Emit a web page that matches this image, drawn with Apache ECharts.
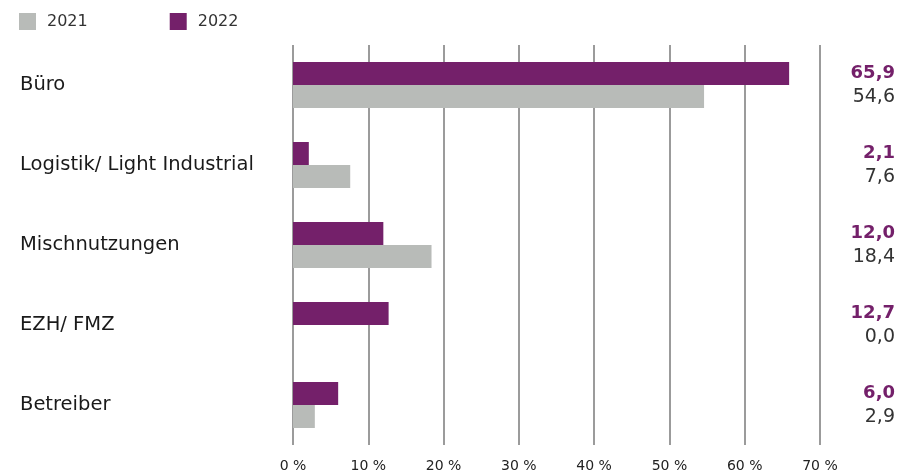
<!DOCTYPE html>
<html><head><meta charset="utf-8">
<script src="https://cdn.jsdelivr.net/npm/echarts@6/dist/echarts.min.js"></script>
<style>html,body{margin:0;padding:0;background:#fff}#c{width:900px;height:475px}</style>
</head><body><div id="c"></div>
<script>
const categories = ['Büro', 'Logistik/ Light Industrial', 'Mischnutzungen', 'EZH/ FMZ', 'Betreiber'];
const values2022 = [65.9, 2.1, 12.0, 12.7, 6.0];
const values2021 = [54.6, 7.6, 18.4, 0.0, 2.9];
const xTicks = [0, 10, 20, 30, 40, 50, 60, 70];

const PURPLE = '#74206a';
const GREY = '#b8bbb8';
const fmt = v => v.toFixed(1).replace('.', ',');

const chart = echarts.init(document.getElementById('c'), null, {renderer: 'canvas'});
chart.setOption({
  animation: false,
  textStyle: {fontFamily: 'DejaVu Sans, sans-serif'},
  legend: {
    left: 14, top: 8, itemWidth: 17, itemHeight: 17, itemGap: 82,
    icon: 'rect',
    textStyle: {fontSize: 16, color: '#333', padding: [0, 0, 0, 6], fontFamily: 'DejaVu Sans'},
    data: ['2021', '2022']
  },
  grid: {left: 293, right: 80, top: 45, height: 400},
  xAxis: {
    type: 'value', min: xTicks[0], max: xTicks[xTicks.length - 1], interval: 10,
    axisLine: {show: false}, axisTick: {show: false},
    splitLine: {show: true, lineStyle: {color: '#7a7a7a', width: 1.5}},
    axisLabel: {formatter: '{value} %', fontSize: 14, color: '#222', margin: 14, fontFamily: 'DejaVu Sans'}
  },
  yAxis: [{
    type: 'category', data: categories, inverse: true,
    axisLine: {show: false}, axisTick: {show: false},
    axisLabel: {align: 'left', margin: 273, fontSize: 19.5, color: '#1a1a1a', fontFamily: 'DejaVu Sans'}
  }, {
    type: 'category', data: categories, inverse: true, position: 'right',
    axisLine: {show: false}, axisTick: {show: false},
    axisLabel: {
      align: 'right', margin: 75,
      formatter: (v, i) => '{a|' + fmt(values2022[i]) + '}\n{b|' + fmt(values2021[i]) + '}',
      rich: {
        a: {fontSize: 18, fontWeight: 'bold', color: PURPLE, lineHeight: 24, align: 'right', fontFamily: 'DejaVu Sans'},
        b: {fontSize: 19, color: '#333', lineHeight: 24, align: 'right', fontFamily: 'DejaVu Sans'}
      }
    }
  }],
  series: [{
    name: '2022', type: 'bar', data: values2022, barWidth: 23, barGap: '0%',
    itemStyle: {color: PURPLE}
  }, {
    name: '2021', type: 'bar', data: values2021, barWidth: 23, barGap: '0%',
    itemStyle: {color: GREY}
  }]
});
</script></body></html>
